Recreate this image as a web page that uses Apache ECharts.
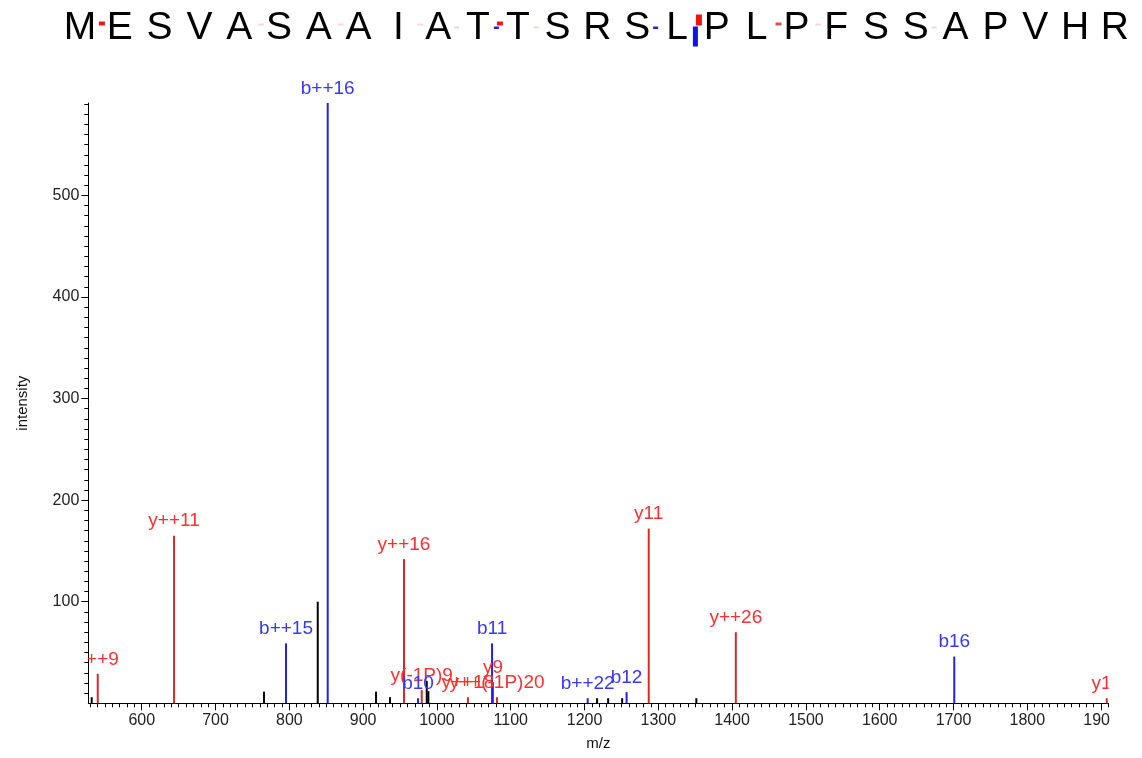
<!DOCTYPE html>
<html><head><meta charset="utf-8">
<script src="https://cdn.jsdelivr.net/npm/echarts@6/dist/echarts.min.js"></script>
<style>html,body{margin:0;padding:0;background:#fff}#c{width:1142px;height:758px}</style>
</head><body><div id="c"></div>
<script>
// ---- data ----
const peakMz        = [532.2, 540.4, 643.8, 765.7, 795.5, 838.5, 852.0, 917.5, 936.4, 955.4, 974.4, 979.4, 986.2, 988.4, 1042.0, 1076.0, 1074.7, 1081.4, 1204.3, 1217.0, 1232.0, 1251.0, 1257.0, 1287.0, 1351.5, 1405.0, 1701.0, 1907.6];
const peakIntensity = [6,     29,    165,   11.5,  59,    100,   591,   11.5,  6,     142,   5,     13,    22,    12,    6,      21,     59,     6,      5,      5,      5,      5,      11,     172,    5,      70,     46,     5];
const peakIon       = ['o',   'y',   'y',   'o',   'b',   'o',   'b',   'o',   'o',   'y',   'b',   'y',   'o',   'o',   'y',    'y',    'b',    'y',    'b',    'o',    'o',    'o',    'b',    'y',    'o',    'y',    'b',    'y'];
const peakLabel     = ['',    'y++9','y++11','',   'b++15','',    'b++16','',    '',    'y++16','b10', 'y(-1P)9','', '',    'y++18','y9',   'b11',  'y++(-1P)20','b++22','', '',     '',     'b12',  'y11',  '',     'y++26','b16',  'y16'];

const xTickValues = [600, 700, 800, 900, 1000, 1100, 1200, 1300, 1400, 1500, 1600, 1700, 1800, 1900];
const yTickValues = [100, 200, 300, 400, 500];

const sequence = ['M','E','S','V','A','S','A','A','I','A','T','T','S','R','S','L','P','L','P','F','S','S','A','P','V','H','R'];
// [gap index after residue, strength level]
const yIonMarks = [[0,3],[4,1],[6,1],[8,1],[10,3],[15,4],[17,2],[18,1]];
const bIonMarks = [[9,1],[10,2],[11,1],[14,2],[15,4],[21,1]];

// ---- chart ----
const X_MIN = 527.6, X_MAX = 1910, Y_MAX = 591;
const RED = '#d42a2a', BLUE = '#2323dc', RED_T = '#f53232', BLUE_T = '#3838f5';
const FONT = '"Liberation Sans", Arial, sans-serif';

const minorX = [];
for (let v = 530; v <= 1910; v += 10) minorX.push(v);
const minorY = [];
for (let v = 10; v <= 590; v += 10) minorY.push(v);

const peaks = peakMz.map((m, i) => [m, peakIntensity[i], peakIon[i], peakLabel[i]]);
const labelled = peaks.filter(p => p[3] && p[2] === 'y').concat(peaks.filter(p => p[3] && p[2] === 'b'));

function lineColor(t) { return t === 'y' ? RED : t === 'b' ? BLUE : '#000'; }

const graphics = [];
const seqX0 = 80, seqStep = 39.8;
sequence.forEach((ch, i) => {
  graphics.push({type: 'text', x: seqX0 + i * seqStep, y: 28, style: {text: ch, font: '39px ' + FONT, fill: '#000', align: 'center', verticalAlign: 'middle'}});
});
const redCol = {1: '#fbd6d6', 2: '#d95050', 3: '#ee1515', 4: '#ee1515'};
const redH = {1: 2, 2: 3, 3: 4, 4: 11};
yIonMarks.forEach(([g, s]) => {
  const c = seqX0 + (g + 0.5) * seqStep;
  graphics.push({type: 'rect', shape: {x: c - 1, y: 25.5 - redH[s], width: 6, height: redH[s]}, style: {fill: redCol[s]}});
});
const blueCol = {1: '#dcdcf6', 2: '#2424cc', 3: '#1010ee', 4: '#1010ee'};
const blueH = {1: 2, 2: 2.5, 3: 4, 4: 20};
bIonMarks.forEach(([g, s]) => {
  const c = seqX0 + (g + 0.5) * seqStep;
  graphics.push({type: 'rect', shape: {x: c - 4, y: 26.5, width: 5, height: blueH[s]}, style: {fill: blueCol[s]}});
});
// clip of the last x tick label, as in the reference
graphics.push({type: 'rect', z: 100, shape: {x: 1110, y: 706, width: 32, height: 30}, style: {fill: '#fff'}});

const chart = echarts.init(document.getElementById('c'), null, {renderer: 'canvas'});
chart.setOption({
  animation: false,
  backgroundColor: '#fff',
  grid: {left: 88.3, right: 33.5, top: 103, bottom: 54.7},
  xAxis: [{
    type: 'value', min: X_MIN, max: X_MAX, position: 'bottom',
    name: 'm/z', nameLocation: 'middle', nameGap: 33,
    nameTextStyle: {fontSize: 15, color: '#111', fontFamily: FONT},
    axisLine: {show: true, lineStyle: {color: '#000', width: 1}},
    axisTick: {show: true, customValues: xTickValues, length: 7, lineStyle: {color: '#000'}},
    axisLabel: {show: true, customValues: xTickValues, margin: 9, fontSize: 16, color: '#222', fontFamily: FONT,
      formatter: v => String(v)},
    splitLine: {show: false}
  }, {
    type: 'value', min: X_MIN, max: X_MAX, position: 'bottom', offset: 0,
    axisLine: {show: false},
    axisTick: {show: true, customValues: minorX, length: 4, lineStyle: {color: '#000'}},
    axisLabel: {show: false}, splitLine: {show: false}
  }],
  yAxis: [{
    type: 'value', min: 0, max: Y_MAX, position: 'left',
    name: 'intensity', nameLocation: 'middle', nameGap: 58, nameRotate: 90,
    nameTextStyle: {fontSize: 15, color: '#111', fontFamily: FONT},
    axisLine: {show: true, lineStyle: {color: '#000', width: 1}},
    axisTick: {show: true, customValues: yTickValues, length: 7, lineStyle: {color: '#000'}},
    axisLabel: {show: true, customValues: yTickValues, margin: 9, fontSize: 16, color: '#222', fontFamily: FONT,
      formatter: v => String(v)},
    splitLine: {show: false}
  }, {
    type: 'value', min: 0, max: Y_MAX, position: 'left', offset: 0,
    axisLine: {show: false},
    axisTick: {show: true, customValues: minorY, length: 4, lineStyle: {color: '#000'}},
    axisLabel: {show: false}, splitLine: {show: false}
  }],
  graphic: graphics,
  series: [{
    type: 'custom', xAxisIndex: 0, yAxisIndex: 0, clip: false,
    data: peaks,
    renderItem: function (params, api) {
      const m = api.value(0), v = api.value(1);
      const t = peaks[params.dataIndex][2];
      const p0 = api.coord([m, 0]), p1 = api.coord([m, v]);
      return {type: 'line', shape: {x1: p0[0], y1: p0[1], x2: p1[0], y2: p1[1]}, style: {stroke: lineColor(t), lineWidth: 2}};
    }
  }, {
    type: 'custom', xAxisIndex: 0, yAxisIndex: 0, clip: false,
    data: labelled,
    renderItem: function (params, api) {
      const d = labelled[params.dataIndex];
      const p1 = api.coord([d[0], d[1]]);
      const cs = params.coordSys;
      return {
        type: 'group',
        clipPath: {type: 'rect', shape: {x: cs.x, y: 0, width: cs.width, height: 758}},
        children: [{type: 'text', x: p1[0], y: p1[1] - 5,
          style: {text: d[3], font: '19px ' + FONT, fill: d[2] === 'y' ? RED_T : BLUE_T, align: 'center', verticalAlign: 'bottom'}}]
      };
    }
  }]
});
</script></body></html>
